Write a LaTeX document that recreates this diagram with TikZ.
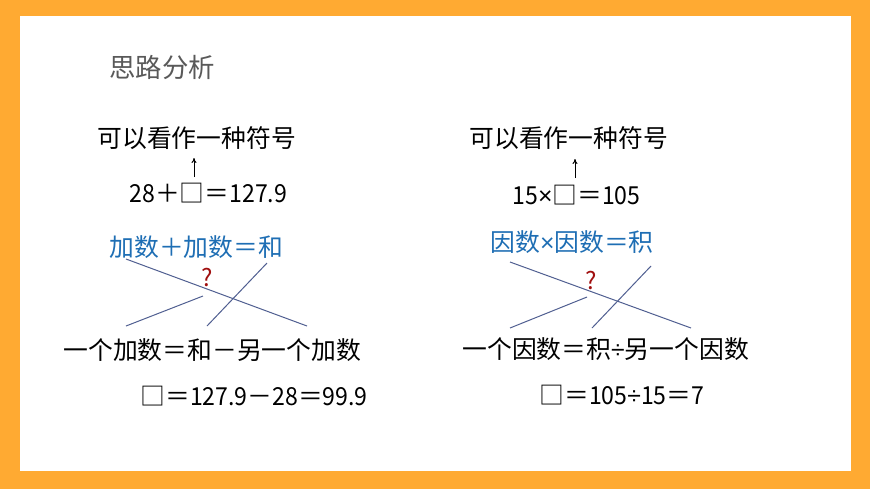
\documentclass[tikz,border=0pt]{standalone}
\usepackage{fontspec}
\setmainfont{Noto Sans CJK SC}
\newfontfamily\numfont[FakeStretch=0.93]{Noto Sans CJK SC}
\newfontfamily\opfont{Liberation Sans}
\newcommand\nf[1]{{\numfont #1}}
\newcommand\op[1]{{\opfont #1}}
\usetikzlibrary{arrows.meta}
\definecolor{frameorange}{RGB}{255,170,50}
\definecolor{keyblue}{RGB}{30,110,180}
\definecolor{crossline}{RGB}{80,95,145}
\definecolor{askred}{RGB}{160,15,15}
\definecolor{titlegray}{RGB}{89,89,89}

\begin{document}
\begin{tikzpicture}[x=0.5pt,y=-0.5pt,
  txt/.style={anchor=west,inner sep=0pt,font=\fontsize{12.4}{14}\selectfont},
  cross/.style={crossline,line width=0.5pt},
  ask/.style={askred,inner sep=0pt,font=\fontsize{12}{13}\selectfont}]
\fill[frameorange] (0,0) rectangle (870,489);
\fill[white] (20,16) rectangle (851,471);

\node[txt,titlegray,font=\fontsize{13.2}{15}\selectfont] (title) at (109,67) {思路分析};

% left: addition, right: multiplication
\foreach \n/\x/\y/\t in {symL/97/138/可以看作一种符号, eqL/129/193/{\nf{28}＋□＝\nf{127.9}},
                         ruleL/63/350/一个加数＝和－另一个加数, ansL/140/396/{□＝\nf{127.9}－\nf{28}＝\nf{99.9}},
                         symR/469/138/可以看作一种符号, eqR/512/195/{\nf{15}\op{×}□＝\nf{105}},
                         ruleR/462/349/一个因数＝积\op{÷}另一个因数, ansR/539/395/{□＝\nf{105}\op{÷}\nf{15}＝\nf{7}}}
  \node[txt] (\n) at (\x,\y) {\t};
\node[txt,keyblue] (keyL) at (109,247) {加数＋加数＝和};
\node[txt,keyblue] (keyR) at (490,242) {因数\op{×}因数＝积};
\node[ask] (askL) at (207,277) {?};
\node[ask] (askR) at (591,280) {?};

\foreach \n/\x/\y in {arrL/194/177, tipL/194/158, arrR/575/178, tipR/575/159,
                      aL/126/259, bL/307/326, cL/267/263, dL/207/326, eL/203/296, fL/126/326,
                      aR/510/262, bR/691/328, cR/651/266, dR/592/328, eR/587/297, fR/510/328}
  \coordinate (\n) at (\x,\y);

\draw[->,>={To[length=2.5pt,width=2.5pt]},line width=0.5pt] (arrL) -- (tipL);
\draw[->,>={To[length=2.5pt,width=2.5pt]},line width=0.5pt] (arrR) -- (tipR);
\foreach \s/\t in {aL/bL, cL/dL, eL/fL, aR/bR, cR/dR, eR/fR}
  \draw[cross] (\s) -- (\t);

\end{tikzpicture}
\end{document}
